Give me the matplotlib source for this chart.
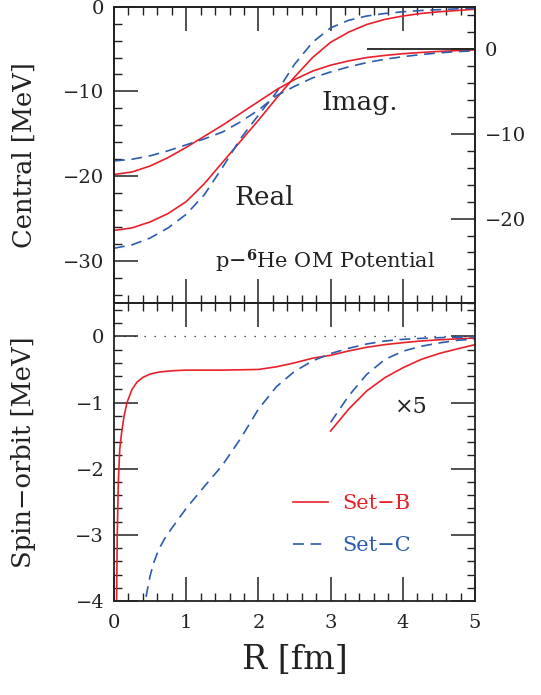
import numpy as np
import matplotlib
matplotlib.use('Agg')
import matplotlib.pyplot as plt
from matplotlib.ticker import MultipleLocator, FixedLocator

plt.rcParams['font.family'] = ['DejaVu Serif']
plt.rcParams['mathtext.fontset'] = 'dejavuserif'

# --- central potential, real part (MeV), left axis
r_c = [0.0, 0.25, 0.5, 0.75, 1.0, 1.25, 1.5, 1.75, 2.0, 2.25, 2.5,
       2.75, 3.0, 3.25, 3.5, 3.75, 4.0, 4.25, 4.5, 4.75, 5.0]
real_b = [-26.4, -26.1, -25.4, -24.4, -23.0, -20.9, -18.4, -15.9, -13.4, -10.8, -8.3,
          -6.0, -4.2, -3.0, -2.1, -1.5, -1.1, -0.8, -0.6, -0.45, -0.3]
real_c = [-28.5, -28.1, -27.3, -26.1, -24.5, -22.2, -19.0, -15.6, -12.8, -10.1, -6.8,
          -4.2, -2.5, -1.6, -1.1, -0.8, -0.6, -0.45, -0.35, -0.25, -0.18]
# --- central potential, imaginary part (MeV), right axis
imag_b = [-14.8, -14.5, -13.8, -12.8, -11.6, -10.3, -9.0, -7.6, -6.2, -4.8, -3.6,
          -2.6, -1.9, -1.4, -1.0, -0.75, -0.55, -0.4, -0.28, -0.18, -0.1]
imag_c = [-13.2, -13.0, -12.6, -12.0, -11.3, -10.6, -9.8, -8.6, -7.2, -5.5, -4.4,
          -3.4, -2.7, -2.1, -1.6, -1.2, -0.9, -0.65, -0.45, -0.3, -0.2]

# --- spin-orbit potential (MeV)
r_so_b = [0.034, 0.045, 0.06, 0.08, 0.105, 0.14, 0.18, 0.25, 0.32, 0.4, 0.5, 0.62, 0.8,
          1.0, 1.5, 2.0, 2.25, 2.5, 2.75, 3.0, 3.25, 3.5, 3.75, 4.0, 4.25, 4.5, 4.75, 5.0]
so_b = [-4.2, -3.0, -2.2, -1.7, -1.46, -1.2, -1.0, -0.8, -0.69, -0.62, -0.57, -0.54, -0.52,
        -0.51, -0.51, -0.5, -0.46, -0.4, -0.33, -0.286, -0.22, -0.165, -0.125, -0.095, -0.07,
        -0.052, -0.038, -0.025]
r_so_c = [0.41, 0.45, 0.5, 0.55, 0.62, 0.7, 0.8, 1.0, 1.25, 1.5, 1.75, 2.0, 2.25, 2.5, 2.75,
          3.0, 3.25, 3.5, 3.75, 4.0, 4.25, 4.5, 4.75, 5.0]
so_c = [-4.2, -3.9, -3.62, -3.42, -3.22, -3.06, -2.9, -2.6, -2.27, -1.95, -1.55, -1.1, -0.76,
        -0.53, -0.37, -0.26, -0.18, -0.115, -0.07, -0.045, -0.03, -0.02, -0.012, -0.008]
scale_factor = 5
r_scaled_from = 3.0
imag_zero_from = 3.5

red = '#e8202a'
blue = '#2b5cad'
ink = '#222222'
dash = [6.5, 4]

fig = plt.figure(figsize=(5.41, 6.95), dpi=100)
left, width = 114 / 541, 361 / 541
ax1 = fig.add_axes([left, 1 - 303.3 / 695, width, 296.6 / 695])
ax2 = fig.add_axes([left, 1 - 601 / 695, width, 297.7 / 695], sharex=ax1)
tw = ax1.twinx()

# top panel
ax1.plot(r_c, real_b, color=red, lw=1.2)
ax1.plot(r_c, real_c, color=blue, lw=1.2, dashes=dash)
tw.plot(r_c, imag_b, color=red, lw=1.2)
tw.plot(r_c, imag_c, color=blue, lw=1.2, dashes=dash)
tw.hlines(0, imag_zero_from, 5, color=ink, lw=1.3)

ax1.set_xlim(0, 5)
ax1.set_ylim(-35, 0)
tw.set_ylim(-30, 5)

ax1.text(1.67, -23.4, 'Real', fontsize=19, color=ink, va='baseline')
ax1.text(2.87, -12.2, 'Imag.', fontsize=19, color=ink, va='baseline')
ax1.text(1.40, -30.85, r'p$-^{\mathbf{6}}$He OM Potential', fontsize=15, color=ink,
         va='baseline')

# bottom panel
ax2.axhline(0, color=ink, lw=0.9, ls=(0, (1, 7)))
r_so_c_arr = np.array(r_so_c)
r_so_b_arr = np.array(r_so_b)
ax2.plot(r_so_b, so_b, color=red, lw=1.2, label='Set\u2212B')
ax2.plot(r_so_c, so_c, color=blue, lw=1.2, dashes=dash, label='Set\u2212C')
mb = r_so_b_arr >= r_scaled_from
mc = r_so_c_arr >= r_scaled_from
ax2.plot(r_so_b_arr[mb], scale_factor * np.array(so_b)[mb], color=red, lw=1.2)
ax2.plot(r_so_c_arr[mc], scale_factor * np.array(so_c)[mc], color=blue, lw=1.2,
         dashes=dash)
ax2.set_ylim(-4, 0.5)
ax2.text(3.89, -1.16, '\u00d75', fontsize=16, color=ink, va='baseline')

leg = ax2.legend(loc='center left', bbox_to_anchor=(2.48, -2.85),
                 bbox_transform=ax2.transData, frameon=False, fontsize=15,
                 handlelength=1.7, handletextpad=0.65, labelspacing=1.1,
                 borderpad=0, borderaxespad=0, labelcolor='linecolor')

# ticks
for ax in (ax1, ax2, tw):
    ax.xaxis.set_major_locator(MultipleLocator(1))
    ax.xaxis.set_minor_locator(MultipleLocator(0.2))
    ax.tick_params(which='major', direction='in', length=17, width=1.1,
                   labelsize=14, pad=7, color=ink, labelcolor=ink)
    ax.tick_params(which='minor', direction='in', length=6, width=1.0, color=ink)
    for s in ax.spines.values():
        s.set_linewidth(1.3)
        s.set_color(ink)

ax1.yaxis.set_major_locator(MultipleLocator(10))
ax1.yaxis.set_minor_locator(MultipleLocator(2))
tw.yaxis.set_major_locator(FixedLocator([-20, -10, 0]))
tw.yaxis.set_minor_locator(MultipleLocator(2))
ax2.yaxis.set_major_locator(MultipleLocator(1))
ax2.yaxis.set_minor_locator(MultipleLocator(0.2))

ax1.tick_params(which='both', top=True, bottom=True, left=True, right=False,
                labelbottom=False)
tw.tick_params(which='both', left=False, right=True)
ax2.tick_params(which='both', top=True, bottom=True, left=True, right=True)
ax2.tick_params(axis='x', pad=9)

ax1.set_ylabel('Central [MeV]', fontsize=18.5, color=ink)
ax2.set_ylabel('Spin\u2212orbit [MeV]', fontsize=18.5, color=ink)
ax1.yaxis.set_label_coords(-0.215, 0.5)
ax2.yaxis.set_label_coords(-0.215, 0.5)
ax2.set_xlabel('R [fm]', fontsize=24, color=ink)
ax2.xaxis.set_label_coords(0.5, -0.145)

fig.savefig('out.png', dpi=100)
